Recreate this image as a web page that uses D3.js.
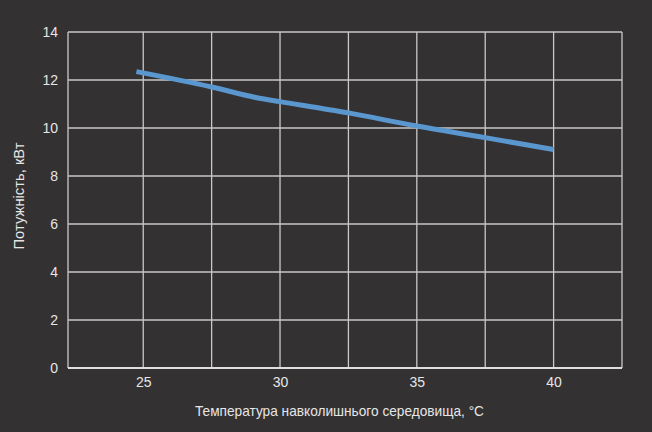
<!DOCTYPE html>
<html>
<head>
<meta charset="utf-8">
<script src="https://cdn.jsdelivr.net/npm/d3@7"></script>
<style>
  html, body { margin: 0; padding: 0; background: #333132; }
  svg { display: block; }
</style>
</head>
<body>
<div id="chart"></div>
<script>
// Power vs ambient temperature
const temps = [24.75, 27.5, 29.2, 30, 32.5, 35, 37.5, 40];
const power = [12.35, 11.71, 11.25, 11.1, 10.63, 10.08, 9.6, 9.1];
const xTicks = [25, 30, 35, 40];
const xGrid = [25, 27.5, 30, 32.5, 35, 37.5, 40, 42.5];
const yTicks = [0, 2, 4, 6, 8, 10, 12, 14];

const W = 652, H = 432;
const margin = { top: 32, right: 30, bottom: 64, left: 68 },
    width = W - margin.left - margin.right,
    height = H - margin.top - margin.bottom;

const font = "'Liberation Sans', Arial, sans-serif";

const svg = d3.select("#chart")
    .append("svg")
    .attr("width", W)
    .attr("height", H);

svg.append("rect")
    .attr("width", W)
    .attr("height", H)
    .attr("fill", "#333132");

const g = svg.append("g")
    .attr("transform", `translate(${margin.left},${margin.top})`);

const x = d3.scaleLinear().domain([22.25, 42.5]).range([0, width]);
const y = d3.scaleLinear().domain([0, 14]).range([height, 0]);

// grid
g.selectAll(".vgrid")
    .data(xGrid)
    .enter()
    .append("line")
    .attr("x1", d => x(d)).attr("x2", d => x(d))
    .attr("y1", 0).attr("y2", height)
    .attr("stroke", "#c9c9c9")
    .attr("stroke-width", 1.3);

g.selectAll(".hgrid")
    .data(yTicks)
    .enter()
    .append("line")
    .attr("x1", 0).attr("x2", width)
    .attr("y1", d => y(d)).attr("y2", d => y(d))
    .attr("stroke", "#c9c9c9")
    .attr("stroke-width", 1.3);

// left edge and bottom axis line
g.append("line")
    .attr("x1", 0).attr("x2", 0)
    .attr("y1", 0).attr("y2", height)
    .attr("stroke", "#c9c9c9")
    .attr("stroke-width", 1.3);

g.append("line")
    .attr("x1", 0).attr("x2", width)
    .attr("y1", height).attr("y2", height)
    .attr("stroke", "#f2f2f2")
    .attr("stroke-width", 1.5);

// axes (labels only)
const xAxis = g.append("g")
    .attr("transform", `translate(0,${height})`)
    .call(d3.axisBottom(x).tickValues(xTicks).tickSize(0).tickPadding(9));

const yAxis = g.append("g")
    .call(d3.axisLeft(y).tickValues(yTicks).tickSize(0).tickPadding(10));

[xAxis, yAxis].forEach(a => {
    a.select(".domain").remove();
    a.selectAll("text")
        .attr("fill", "#e6e6e6")
        .style("font-family", font)
        .style("font-size", "14px");
});

// line
const line = d3.line()
    .x((d, i) => x(temps[i]))
    .y(d => y(d))
    .curve(d3.curveMonotoneX);

g.append("path")
    .datum(power)
    .attr("fill", "none")
    .attr("stroke", "#5b97cf")
    .attr("stroke-width", 5)
    .attr("stroke-linejoin", "round")
    .attr("d", line);

// axis titles
svg.append("text")
    .attr("x", 339.5)
    .attr("y", 416)
    .attr("text-anchor", "middle")
    .attr("fill", "#e6e6e6")
    .attr("textLength", 289)
    .attr("lengthAdjust", "spacingAndGlyphs")
    .style("font-family", font)
    .style("font-size", "15px")
    .text("Температура навколишнього середовища, °C");

svg.append("text")
    .attr("transform", "translate(24,196) rotate(-90)")
    .attr("text-anchor", "middle")
    .attr("fill", "#e6e6e6")
    .attr("textLength", 107)
    .attr("lengthAdjust", "spacingAndGlyphs")
    .style("font-family", font)
    .style("font-size", "15px")
    .text("Потужність, кВт");
</script>
</body>
</html>
